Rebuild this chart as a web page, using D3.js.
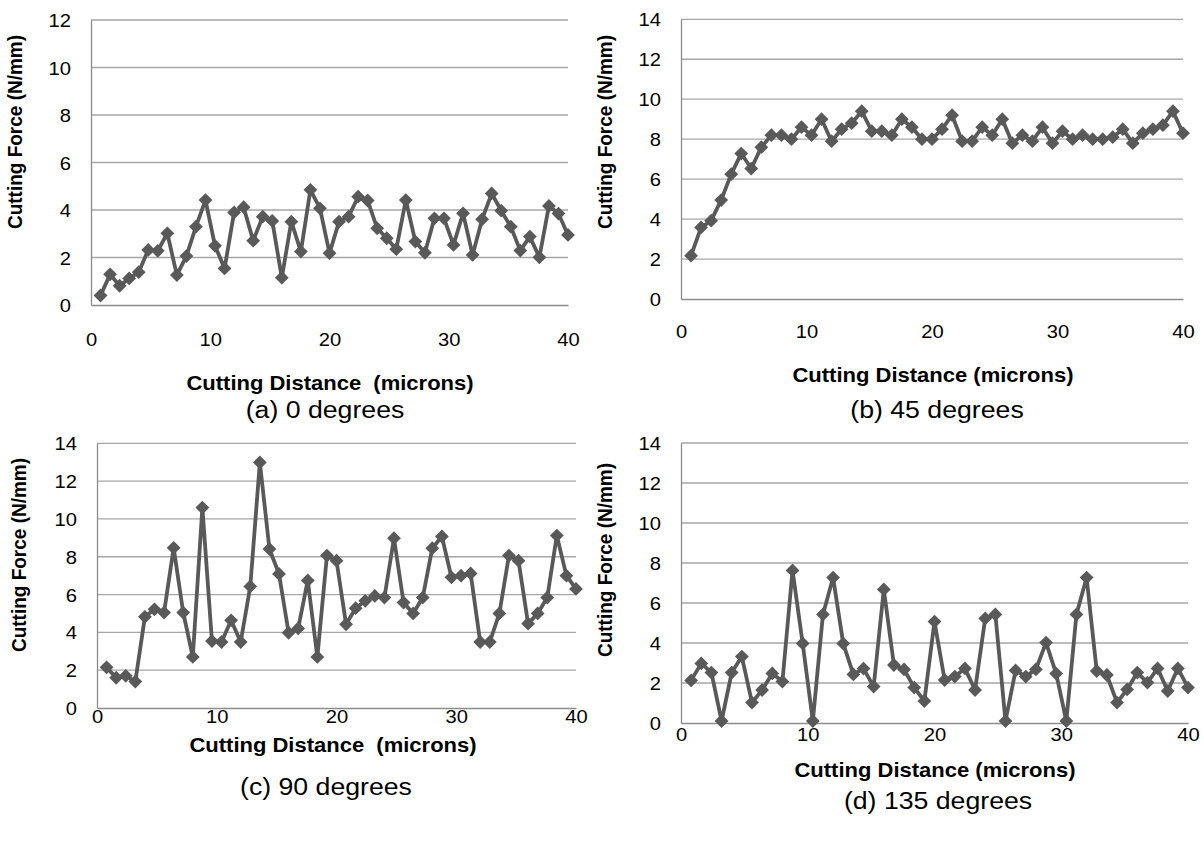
<!DOCTYPE html>
<html>
<head>
<meta charset="utf-8">
<script src="https://cdn.jsdelivr.net/npm/d3@7"></script>
<style>
  html, body { margin: 0; padding: 0; background: #ffffff; }
  svg { display: block; font-family: "Liberation Sans", Arial, sans-serif; }
  svg text { white-space: pre; }
</style>
</head>
<body>
<svg id="chart" width="1204" height="843"></svg>
<script>
// Cutting distance (microns) sampled every 0.8 micron
const cuttingDistance = [
  0.8, 1.6, 2.4, 3.2, 4.0, 4.8, 5.6, 6.4, 7.2, 8.0,
  8.8, 9.6, 10.4, 11.2, 12.0, 12.8, 13.6, 14.4, 15.2, 16.0,
  16.8, 17.6, 18.4, 19.2, 20.0, 20.8, 21.6, 22.4, 23.2, 24.0,
  24.8, 25.6, 26.4, 27.2, 28.0, 28.8, 29.6, 30.4, 31.2, 32.0,
  32.8, 33.6, 34.4, 35.2, 36.0, 36.8, 37.6, 38.4, 39.2, 40.0
];

// Cutting force (N/mm) for each cutting direction
const force0deg = [
  0.40, 1.29, 0.81, 1.12, 1.38, 2.32, 2.28, 3.02, 1.26, 2.06,
  3.30, 4.42, 2.49, 1.54, 3.90, 4.12, 2.71, 3.72, 3.54, 1.15,
  3.51, 2.25, 4.85, 4.07, 2.18, 3.51, 3.72, 4.56, 4.40, 3.23,
  2.81, 2.35, 4.42, 2.67, 2.20, 3.65, 3.65, 2.53, 3.86, 2.11,
  3.61, 4.70, 3.97, 3.30, 2.29, 2.88, 2.01, 4.17, 3.85, 2.95
];
const force45deg = [
  2.17, 3.58, 3.92, 4.95, 6.25, 7.28, 6.53, 7.60, 8.20, 8.20,
  8.00, 8.60, 8.20, 9.00, 7.90, 8.50, 8.80, 9.40, 8.40, 8.40,
  8.20, 9.00, 8.60, 8.00, 8.00, 8.50, 9.20, 7.90, 7.90, 8.60,
  8.20, 9.00, 7.80, 8.20, 7.90, 8.60, 7.80, 8.40, 8.00, 8.20,
  8.00, 8.00, 8.10, 8.50, 7.80, 8.30, 8.50, 8.70, 9.40, 8.30
];
const force90deg = [
  2.15, 1.60, 1.70, 1.40, 4.82, 5.22, 5.05, 8.47, 5.05, 2.70,
  10.60, 3.54, 3.49, 4.64, 3.49, 6.43, 12.99, 8.41, 7.09, 3.98,
  4.21, 6.75, 2.70, 8.06, 7.79, 4.43, 5.28, 5.67, 5.93, 5.84,
  8.98, 5.58, 5.00, 5.84, 8.45, 9.07, 6.91, 7.00, 7.12, 3.49,
  3.49, 5.00, 8.06, 7.79, 4.46, 5.00, 5.84, 9.12, 7.00, 6.30
];
const force135deg = [
  2.13, 2.98, 2.52, 0.10, 2.52, 3.32, 1.02, 1.65, 2.48, 2.07,
  7.63, 3.98, 0.10, 5.43, 7.27, 3.97, 2.43, 2.72, 1.82, 6.68,
  2.90, 2.68, 1.77, 1.10, 5.07, 2.15, 2.32, 2.73, 1.65, 5.23,
  5.43, 0.10, 2.63, 2.32, 2.68, 4.02, 2.47, 0.10, 5.43, 7.27,
  2.60, 2.40, 1.02, 1.68, 2.52, 2.02, 2.73, 1.60, 2.73, 1.77
];

// Axis ticks and labels
const xTicks = [0, 10, 20, 30, 40];
const yTicksTo12 = [0, 2, 4, 6, 8, 10, 12];
const yTicksTo14 = [0, 2, 4, 6, 8, 10, 12, 14];
const panelCaptions = ["(a) 0 degrees", "(b) 45 degrees", "(c) 90 degrees", "(d) 135 degrees"];
const xAxisTitles = ["Cutting Distance  (microns)", "Cutting Distance (microns)",
                     "Cutting Distance  (microns)", "Cutting Distance (microns)"];
const yAxisTitle = "Cutting Force (N/mm)";

const LINE = "#595959";
const GRID = "#a6a6a6";
const AXIS = "#8c8c8c";
const TEXT = "#000000";

const svg = d3.select("#chart");

// Layout of the four panels
const panels = [
  { values: force0deg,   yTicks: yTicksTo12, box: { l: 91,  t: 20,    r: 568,  b: 305 },
    yTitle: [22, 132],  tickBase: 346, xTitle: [330, 390], caption: [325, 418] },
  { values: force45deg,  yTicks: yTicksTo14, box: { l: 681, t: 19.3,  r: 1183, b: 299 },
    yTitle: [612, 132], tickBase: 338, xTitle: [933, 382], caption: [937, 418] },
  { values: force90deg,  yTicks: yTicksTo14, box: { l: 97,  t: 443.3, r: 576,  b: 708 },
    yTitle: [26, 555],  tickBase: 723, xTitle: [333, 752], caption: [326, 795] },
  { values: force135deg, yTicks: yTicksTo14, box: { l: 681, t: 443,   r: 1188, b: 723 },
    yTitle: [612, 560], tickBase: 741, xTitle: [935, 777], caption: [938, 809] }
];

// Text helper: glyphs are drawn a little wider than the font's natural width
function label(g, str, x, y, opts) {
  const sx = opts.stretch;
  const tf = opts.rotate
    ? `translate(${x},${y}) scale(${sx},1) rotate(-90)`
    : `translate(${x},${y}) scale(${sx},1)`;
  return g.append("text")
    .attr("transform", tf)
    .attr("text-anchor", opts.anchor || "middle")
    .attr("font-size", opts.size)
    .attr("font-weight", opts.bold ? "bold" : "normal")
    .attr("fill", TEXT)
    .text(str);
}

panels.forEach((p, i) => {
  const g = svg.append("g");
  const { l, t, r, b } = p.box;
  const ymax = p.yTicks[p.yTicks.length - 1];

  const x = d3.scaleLinear().domain([0, 40]).range([l, r]);
  const y = d3.scaleLinear().domain([0, ymax]).range([b, t]);

  // horizontal gridlines
  g.append("g").selectAll("line")
    .data(p.yTicks.filter(v => v > 0))
    .join("line")
    .attr("x1", l).attr("x2", r)
    .attr("y1", d => y(d)).attr("y2", d => y(d))
    .attr("stroke", GRID).attr("stroke-width", 1.3);

  // y axis (line + labels)
  const yAxis = g.append("g")
    .attr("transform", `translate(${l},0)`)
    .call(d3.axisLeft(y).tickValues(p.yTicks).tickSize(0).tickPadding(0).tickFormat(d3.format("d")));
  yAxis.select(".domain").attr("stroke", AXIS).attr("stroke-width", 1.3);
  yAxis.selectAll(".tick text").remove();
  yAxis.selectAll(".tick").each(function (d) {
    label(d3.select(this), String(d), -20, 6.5, { size: 18, anchor: "end", stretch: 1.12 });
  });

  // x axis (line + labels)
  const xAxis = g.append("g")
    .attr("transform", `translate(0,${b})`)
    .call(d3.axisBottom(x).tickValues(xTicks).tickSize(0).tickPadding(0).tickFormat(d3.format("d")));
  xAxis.select(".domain").attr("stroke", AXIS).attr("stroke-width", 1.3);
  xAxis.selectAll(".tick text").remove();
  xAxis.selectAll(".tick").each(function (d) {
    label(d3.select(this), String(d), 0, p.tickBase - b, { size: 18, stretch: 1.12 });
  });

  // data line and diamond markers
  const pts = cuttingDistance.map((d, k) => [d, p.values[k]]);
  g.append("path")
    .datum(pts)
    .attr("fill", "none")
    .attr("stroke", LINE)
    .attr("stroke-width", 3.8)
    .attr("stroke-linejoin", "round")
    .attr("d", d3.line().x(d => x(d[0])).y(d => y(d[1])));

  const diamond = d3.symbol().type(d3.symbolSquare).size(95);
  g.append("g").selectAll("path")
    .data(pts)
    .join("path")
    .attr("transform", d => `translate(${x(d[0])},${y(d[1])}) rotate(45)`)
    .attr("d", diamond)
    .attr("fill", LINE);

  // titles
  label(g, yAxisTitle, p.yTitle[0], p.yTitle[1], { size: 19, bold: true, rotate: true, stretch: 1.1 });
  label(g, xAxisTitles[i], p.xTitle[0], p.xTitle[1], { size: 20, bold: true, stretch: 1.1 });
  label(g, panelCaptions[i], p.caption[0], p.caption[1], { size: 23, stretch: 1.16 });
});
</script>
</body>
</html>
